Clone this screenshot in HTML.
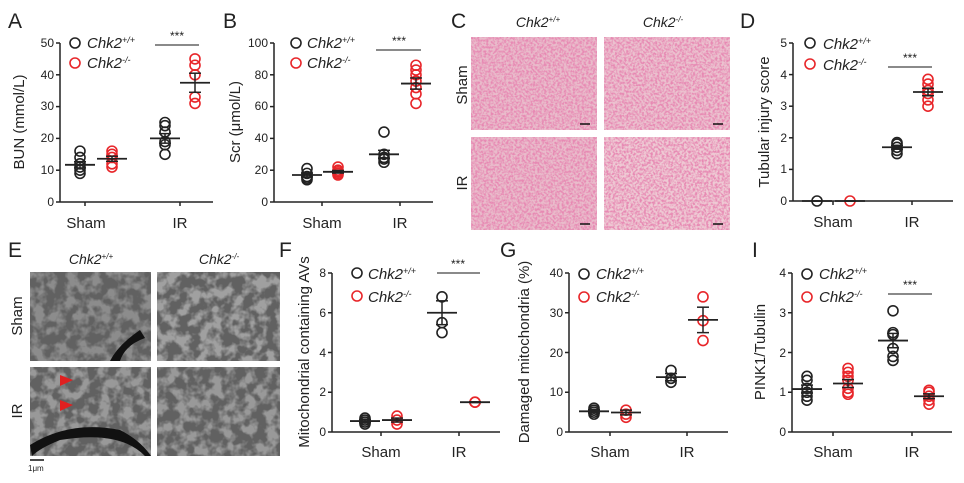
<!DOCTYPE html><html><head><meta charset="utf-8"><style>
body{margin:0;background:#fff}svg{display:block}
text{font-family:"Liberation Sans",Arial,sans-serif;fill:#222}
.t{font-size:12px}.lab{font-size:15px}.P{font-size:21px}.lg{font-size:15px;font-style:italic}
.h{font-size:14px;font-style:italic}
</style></head><body>
<svg id="s" width="964" height="483" viewBox="0 0 964 483">
<defs>
<filter id="noiseP" x="0" y="0" width="1" height="1"><feTurbulence type="fractalNoise" baseFrequency="0.45" numOctaves="2" seed="3"/><feColorMatrix values="0 0 0 0 0.8  0 0 0 0 0.25  0 0 0 0 0.45  0 0 0 -3 1.9"/></filter>
<filter id="noiseG" x="0" y="0" width="1" height="1"><feTurbulence type="fractalNoise" baseFrequency="0.09" numOctaves="3" seed="7"/><feColorMatrix values="0 0 0 0 0.12  0 0 0 0 0.12  0 0 0 0 0.12  0 0 0 -4 2.6"/></filter>
</defs>
<g id="hist">
<rect x="471" y="37" width="126" height="93" fill="#e9bccb"/><rect x="471" y="37" width="126" height="93" filter="url(#noiseP)"/>
<rect x="604" y="37" width="126" height="93" fill="#ebc2cf"/><rect x="604" y="37" width="126" height="93" filter="url(#noiseP)"/>
<rect x="471" y="137" width="126" height="93" fill="#e9bccb"/><rect x="471" y="137" width="126" height="93" filter="url(#noiseP)"/>
<rect x="604" y="137" width="126" height="93" fill="#eecad4"/><rect x="604" y="137" width="126" height="93" filter="url(#noiseP)"/>
<g stroke="#111" stroke-width="1.5"><line x1="580" y1="124" x2="590" y2="124"/><line x1="713" y1="124" x2="723" y2="124"/><line x1="580" y1="224" x2="590" y2="224"/><line x1="713" y1="224" x2="723" y2="224"/></g>
</g>
<g id="em">
<rect x="30" y="272" width="121" height="89" fill="#8c8c8c"/><rect x="30" y="272" width="121" height="89" filter="url(#noiseG)"/>
<rect x="157" y="272" width="123" height="89" fill="#a0a0a0"/><rect x="157" y="272" width="123" height="89" filter="url(#noiseG)"/>
<rect x="30" y="367" width="121" height="89" fill="#999"/><rect x="30" y="367" width="121" height="89" filter="url(#noiseG)"/>
<rect x="157" y="367" width="123" height="89" fill="#999"/><rect x="157" y="367" width="123" height="89" filter="url(#noiseG)"/>
<path d="M140 330 Q118 345 110 361 L120 361 Q125 345 145 338Z" fill="#111"/>
<path d="M30 445 Q70 420 120 430 Q140 440 151 456 L145 456 Q120 430 60 440 Q40 448 32 456Z" fill="#111"/>
<polygon points="60,375 73,380 60,386" fill="#e02020"/><polygon points="60,400 73,405 60,411" fill="#e02020"/>
<line x1="30" y1="460" x2="44" y2="460" stroke="#111" stroke-width="1.5"/>
<text x="28" y="471" style="font-size:8px">1μm</text>
</g>
<g id="plots" fill="none" stroke="#222" stroke-width="1.5"></g>
<text class="P" x="8" y="28">A</text><text class="P" x="223" y="28">B</text><text class="P" x="451" y="28">C</text><text class="P" x="740" y="28">D</text>
<text class="P" x="8" y="257">E</text><text class="P" x="279" y="257">F</text><text class="P" x="500" y="257">G</text><text class="P" x="752" y="257">I</text>
<text class="h" x="538" y="27" text-anchor="middle">Chk2<tspan dy="-5" style="font-size:8px">+/+</tspan></text>
<text class="h" x="663" y="27" text-anchor="middle">Chk2<tspan dy="-5" style="font-size:8px">-/-</tspan></text>
<text class="h" x="91" y="264" text-anchor="middle">Chk2<tspan dy="-5" style="font-size:8px">+/+</tspan></text>
<text class="h" x="219" y="264" text-anchor="middle">Chk2<tspan dy="-5" style="font-size:8px">-/-</tspan></text>
<text class="lab" transform="translate(467,85) rotate(-90)" text-anchor="middle">Sham</text>
<text class="lab" transform="translate(467,183) rotate(-90)" text-anchor="middle">IR</text>
<text class="lab" transform="translate(22,316) rotate(-90)" text-anchor="middle">Sham</text>
<text class="lab" transform="translate(22,411) rotate(-90)" text-anchor="middle">IR</text>
<text class="lab" transform="translate(24,122) rotate(-90)" text-anchor="middle">BUN (mmol/L)</text>
<text class="lab" transform="translate(240,122) rotate(-90)" text-anchor="middle">Scr (μmol/L)</text>
<text class="lab" transform="translate(769,122) rotate(-90)" text-anchor="middle">Tubular injury score</text>
<text class="lab" transform="translate(309,352) rotate(-90)" text-anchor="middle">Mitochondrial containing AVs</text>
<text class="lab" transform="translate(529,352) rotate(-90)" text-anchor="middle">Damaged mitochondria (%)</text>
<text class="lab" transform="translate(765,352) rotate(-90)" text-anchor="middle">PINK1/Tubulin</text>
<g class="t" text-anchor="end">
<text x="54" y="206">0</text><text x="54" y="174">10</text><text x="54" y="142">20</text><text x="54" y="110">30</text><text x="54" y="79">40</text><text x="54" y="47">50</text>
<text x="268" y="206">0</text><text x="268" y="174">20</text><text x="268" y="142">40</text><text x="268" y="110">60</text><text x="268" y="79">80</text><text x="268" y="47">100</text>
<text x="787" y="205">0</text><text x="787" y="173">1</text><text x="787" y="142">2</text><text x="787" y="110">3</text><text x="787" y="79">4</text><text x="787" y="47">5</text>
<text x="326" y="436">0</text><text x="326" y="396">2</text><text x="326" y="357">4</text><text x="326" y="317">6</text><text x="326" y="277">8</text>
<text x="563" y="436">0</text><text x="563" y="396">10</text><text x="563" y="357">20</text><text x="563" y="317">30</text><text x="563" y="277">40</text>
<text x="786" y="436">0</text><text x="786" y="396">1</text><text x="786" y="357">2</text><text x="786" y="317">3</text><text x="786" y="277">4</text>
</g>
<g class="lab" text-anchor="middle">
<text x="86" y="228">Sham</text><text x="180" y="228">IR</text>
<text x="322" y="228">Sham</text><text x="400" y="228">IR</text>
<text x="833" y="227">Sham</text><text x="912" y="227">IR</text>
<text x="381" y="457">Sham</text><text x="459" y="457">IR</text>
<text x="610" y="457">Sham</text><text x="687" y="457">IR</text>
<text x="833" y="457">Sham</text><text x="912" y="457">IR</text>
</g>
<g class="lg">
<text x="87" y="48">Chk2<tspan dy="-5" style="font-size:9px">+/+</tspan></text><text x="87" y="68">Chk2<tspan dy="-5" style="font-size:9px">-/-</tspan></text>
<text x="307" y="48">Chk2<tspan dy="-5" style="font-size:9px">+/+</tspan></text><text x="307" y="68">Chk2<tspan dy="-5" style="font-size:9px">-/-</tspan></text>
<text x="823" y="49">Chk2<tspan dy="-5" style="font-size:9px">+/+</tspan></text><text x="823" y="70">Chk2<tspan dy="-5" style="font-size:9px">-/-</tspan></text>
<text x="368" y="279">Chk2<tspan dy="-5" style="font-size:9px">+/+</tspan></text><text x="368" y="302">Chk2<tspan dy="-5" style="font-size:9px">-/-</tspan></text>
<text x="596" y="279">Chk2<tspan dy="-5" style="font-size:9px">+/+</tspan></text><text x="596" y="302">Chk2<tspan dy="-5" style="font-size:9px">-/-</tspan></text>
<text x="819" y="279">Chk2<tspan dy="-5" style="font-size:9px">+/+</tspan></text><text x="819" y="302">Chk2<tspan dy="-5" style="font-size:9px">-/-</tspan></text>
</g>
<g class="t" text-anchor="middle">
<text x="177" y="40">***</text><text x="399" y="45">***</text><text x="910" y="62">***</text><text x="458" y="268">***</text><text x="910" y="289">***</text>
</g>
</svg>
<script>
var g=document.getElementById('plots'),NS='http://www.w3.org/2000/svg';
function el(n,a){var e=document.createElementNS(NS,n);for(var k in a)e.setAttribute(k,a[k]);g.appendChild(e);return e}
function L(x1,y1,x2,y2,c,w){el('line',{x1:x1,y1:y1,x2:x2,y2:y2,stroke:c||'#222','stroke-width':w||1.5})}
function C(x,y,c){el('circle',{cx:x,cy:y,r:5,stroke:c,'stroke-width':1.6,fill:'none'})}
var R='#e8262a',K='#222';
function plot(p){
 var sc=(p.y0-p.yt)/p.max;
 L(p.x0,p.yt,p.x0,p.y0);L(p.x0,p.y0,p.xe,p.y0);
 for(var i=0;i<=p.n;i++){var y=p.y0-i*(p.y0-p.yt)/p.n;L(p.x0-4,y,p.x0,y)}
 p.tx.forEach(function(x){L(x,p.y0,x,p.y0+4)});
 C(p.lx,p.ly,K);C(p.lx,p.ly+(p.ld||20),R);
 L(p.s[0],p.s[2],p.s[1],p.s[2],'#444',1.2);
 p.g.forEach(function(d){var x=d[0],c=d[1],v=d[2],m=d[3],e=d[4];
  v.forEach(function(u){C(x,p.y0-u*sc,c)});
  var ym=p.y0-m*sc;L(x-15,ym,x+15,ym,K,1.8);
  L(x,ym-e*sc,x,ym+e*sc,K,1.5);L(x-6,ym-e*sc,x+6,ym-e*sc,K,1.5);L(x-6,ym+e*sc,x+6,ym+e*sc,K,1.5);});
}
plot({x0:60,y0:202,yt:43,xe:213,max:50,n:5,tx:[85,180],lx:75,ly:43,s:[155,199,45],g:[[80,K,[9,10,11,12,14,16],11.7,1],[112,R,[11,12,14,15,16],13.6,0.8],[165,K,[15,18,19,22,24,25],20,1.5],[195,R,[31,33,40,43,45],37.5,3]]});
plot({x0:274,y0:202,yt:43,xe:433,max:100,n:5,tx:[322,400],lx:296,ly:43,s:[376,421,50],g:[[307,K,[14,15,16,18,21],17,1.2],[338,R,[17,18,19,20,22],19,0.8],[384,K,[25,27,28,30,44],30,2.5],[416,R,[62,68,72,76,80,83,86],74.5,3.5]]});
plot({x0:793,y0:201,yt:43,xe:953,max:5,n:5,tx:[833,912],lx:810,ly:43,ld:21,s:[888,932,67],g:[[817,K,[0],0,0],[850,R,[0],0,0],[897,K,[1.5,1.6,1.7,1.8,1.85],1.7,0.06],[928,R,[3.0,3.2,3.4,3.5,3.7,3.85],3.45,0.12]]});
plot({x0:332,y0:432,yt:273,xe:500,max:8,n:4,tx:[381,459],lx:357,ly:273,ld:23,s:[437,480,273],g:[[365,K,[0.4,0.5,0.6,0.7],0.55,0.08],[397,R,[0.4,0.6,0.8],0.6,0.1],[442,K,[5,5.5,6.8],6,0.6],[475,R,[1.5,1.5],1.5,0.02]]});
plot({x0:569,y0:432,yt:273,xe:728,max:40,n:4,tx:[610,687],lx:584,ly:274,ld:23,s:[0,0,0],g:[[594,K,[4.5,5,5.5,6],5.2,0.4],[626,R,[3.7,4.5,5.5],4.9,0.6],[671,K,[12.5,13.5,15.5],13.8,0.9],[703,R,[23,28,34],28.2,3.2]]});
plot({x0:792,y0:432,yt:273,xe:952,max:4,n:4,tx:[833,912],lx:807,ly:274,ld:23,s:[888,932,294],g:[[807,K,[0.8,0.9,1,1.1,1.3,1.4],1.08,0.1],[848,R,[0.95,1,1.1,1.3,1.4,1.5,1.6],1.22,0.1],[893,K,[1.8,1.9,2.1,2.45,2.5,3.05],2.3,0.18],[929,R,[0.7,0.8,0.9,1,1.05],0.9,0.06]]});
</script>
</body></html>
